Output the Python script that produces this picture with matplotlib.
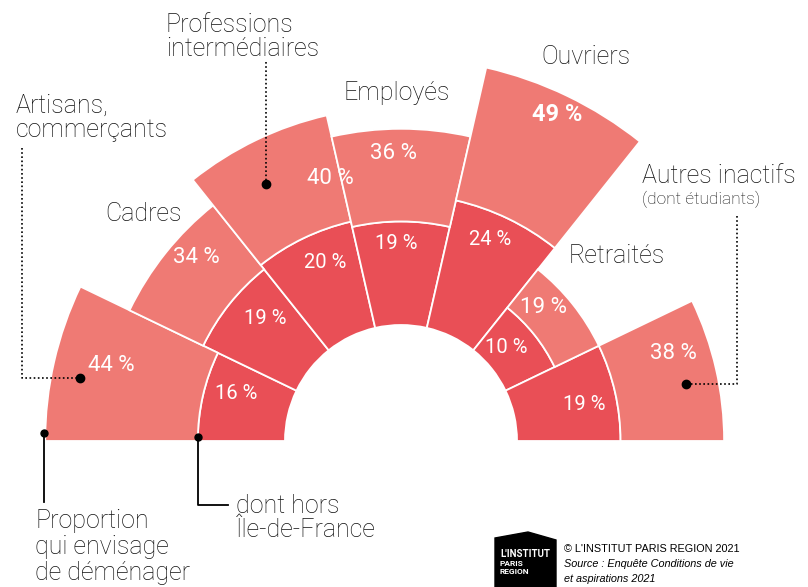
import numpy as np
import matplotlib
matplotlib.use("Agg")
import matplotlib.pyplot as plt
from matplotlib.patches import Polygon

# catégories socioprofessionnelles, de gauche à droite
categories = ["Artisans,\ncommerçants", "Cadres", "Professions\nintermédiaires",
              "Employés", "Ouvriers", "Retraités", "Autres inactifs"]
# proportion qui envisage de déménager (%)
total = [44, 34, 40, 36, 49, 19, 38]
# dont hors Île-de-France (%)
hors_idf = [16, 19, 20, 19, 24, 10, 19]

W, H = 808, 587
CX, CY = 401, 441          # centre du demi-cercle (px)
K_PX = 5.45                # px par point de %
R0_PX = 116                # rayon du trou central (px)
RMAX = 75                  # limite radiale (unités de %)

plt.rcParams['font.family'] = ['Roboto', 'DejaVu Sans']

fig = plt.figure(figsize=(W / 100, H / 100), dpi=100)

# axes polaire placé pour que le centre tombe en (CX, CY)
R_px = RMAX * K_PX
ax = fig.add_axes([(CX - R_px) / W, (H - CY - R_px) / H, 2 * R_px / W, 2 * R_px / H],
                  projection="polar")
ax.set_ylim(0, RMAX)
ax.set_axis_off()

n = len(categories)
w = np.pi / n
theta = np.pi - (np.arange(n) + 0.5) * w
hole = R0_PX / K_PX

c_out = "#ef7a74"
c_in = "#e94f56"
tot = np.array(total)
hid = np.array(hors_idf)
ax.bar(theta, hid, width=w, bottom=hole, color=c_in, edgecolor="white", linewidth=1.3)
ax.bar(theta, tot - hid, width=w, bottom=hole + hid, color=c_out, edgecolor="white", linewidth=1.3)

# position des étiquettes (angle en degrés, rayon en px)
pos_out = [(165.3, 299), (138.2, 275), (105.1, 272), (91.4, 288), (64.5, 362), (43.1, 195), (17.9, 286)]
pos_in = [(164, 171), (137.9, 183), (113, 194), (91.4, 198), (66.1, 220), (41.8, 141), (11.4, 187)]
for i in range(n):
    t, r = pos_out[i]
    bold = total[i] == max(total)
    ax.text(np.deg2rad(t), r / K_PX, "%d %%" % total[i], color="white",
            fontsize=16 if not bold else 17, fontweight="bold" if bold else "normal",
            ha="center", va="center")
    t, r = pos_in[i]
    ax.text(np.deg2rad(t), r / K_PX, "%d %%" % hors_idf[i], color="white",
            fontsize=14.5, fontweight="normal", ha="center", va="center")

# calque d'annotations en coordonnées pixel
ov = fig.add_axes([0, 0, 1, 1])
ov.set_xlim(0, W)
ov.set_ylim(H, 0)
ov.set_axis_off()

lab_kw = dict(fontsize=18, fontweight="light", color="#111111", va="center", ha="left",
              linespacing=1.0)
ov.text(166, 37, categories[2], **lab_kw)
ov.text(16, 118, categories[0], **lab_kw)
ov.text(105, 214, categories[1], **lab_kw)
ov.text(344, 93, categories[3], **lab_kw)
ov.text(541, 57, categories[4], **lab_kw)
ov.text(569, 256, categories[5], **lab_kw)
ov.text(642, 176, categories[6], **lab_kw)
ov.text(642, 199, "(dont étudiants)", fontsize=12.5, fontweight="light", color="#111111",
        va="center", ha="left")
ov.text(35, 547, "Proportion\nqui envisage\nde déménager", fontsize=18, fontweight="light",
        color="#111111", va="center", ha="left", linespacing=1.08)
ov.text(236, 518, "dont hors\nÎle-de-France", fontsize=18, fontweight="light",
        color="#111111", va="center", ha="left", linespacing=1.0)

# lignes de rappel pointillées
dot = dict(color="black", lw=1.2, ls=(0, (1, 1.5)))
ov.plot([22, 22, 80], [148, 378, 378], **dot)
ov.plot([266, 266], [62, 184], **dot)
ov.plot([737, 737, 686], [216, 384, 384], **dot)
ov.plot([80, 266, 686], [378, 184, 384], "o", color="black", ms=6)
# lignes de rappel pleines
ov.plot([44, 44], [433, 502], color="black", lw=1.3)
ov.plot([198, 198, 228], [437, 505, 505], color="black", lw=1.3)
ov.plot([44, 198], [433, 437], "o", color="black", ms=5)

# logo et source
ov.add_patch(Polygon([(495, 538), (528, 532), (556, 540), (556, 587), (495, 587)],
                     closed=True, color="black"))
ov.text(500, 554, "L'INSTITUT", color="white", fontsize=7, fontweight="bold", va="center")
ov.text(500, 564, "PARIS", color="white", fontsize=6, fontweight="bold", va="center")
ov.text(500, 572, "REGION", color="white", fontsize=6, fontweight="bold", va="center")
src_kw = dict(fontsize=7.8, color="black", va="center", ha="left", family="Liberation Sans")
ov.text(564, 549, "© L'INSTITUT PARIS REGION 2021", **src_kw)
ov.text(564, 564, "Source : Enquête Conditions de vie", style="italic", **src_kw)
ov.text(564, 579, "et aspirations 2021", style="italic", **src_kw)

fig.savefig("out.png", dpi=100)
